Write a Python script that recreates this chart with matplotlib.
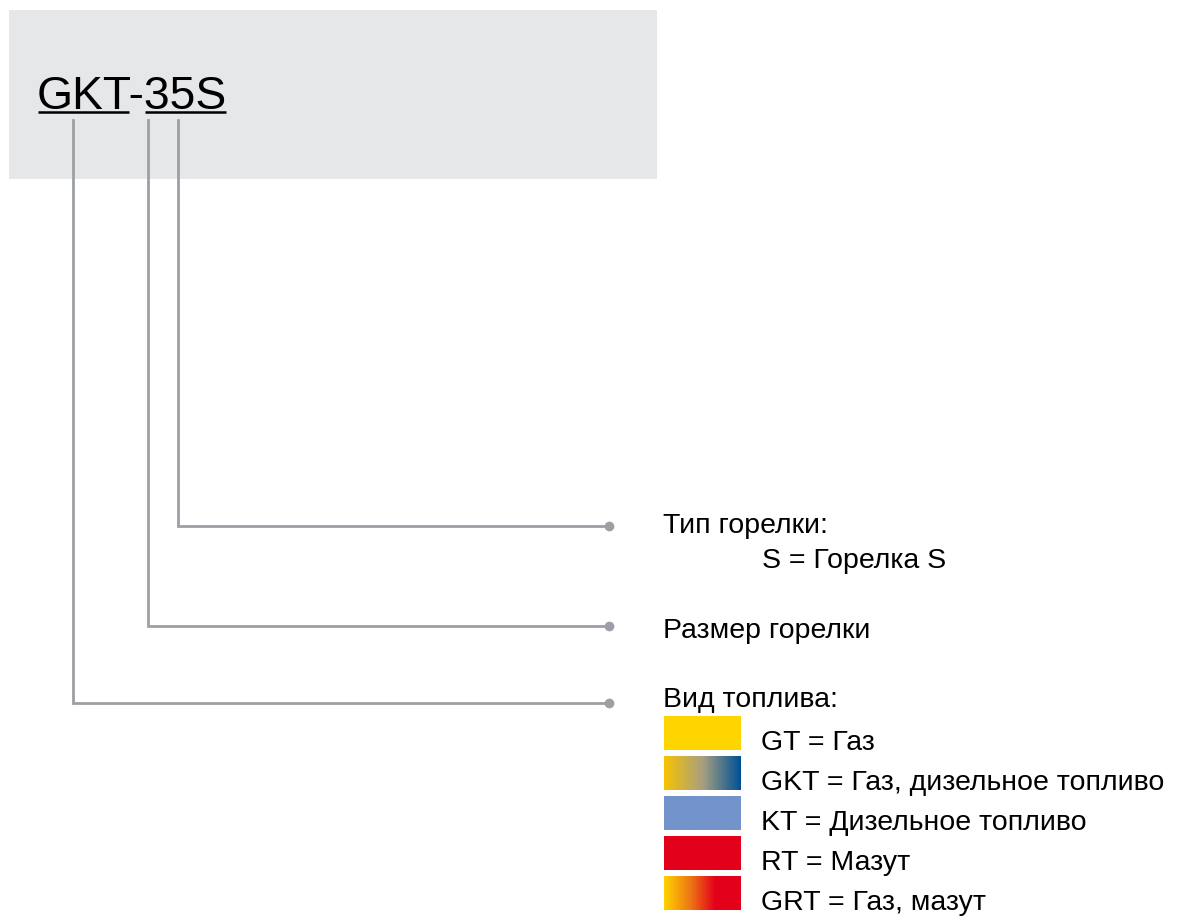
import numpy as np
import matplotlib
matplotlib.use("Agg")
import matplotlib.pyplot as plt
from matplotlib.colors import LinearSegmentedColormap

plt.rcParams['font.family'] = ['Liberation Sans', 'DejaVu Sans']

# code parts and their explanations
code_text = "GKT-35S"
branch_labels = ["Тип горелки:", "Размер горелки", "Вид топлива:"]
type_detail = "S = Горелка S"

# fuel types: label and colour stops for the swatch
fuel_labels = ["GT = Газ",
               "GKT = Газ, дизельное топливо",
               "KT = Дизельное топливо",
               "RT = Мазут",
               "GRT = Газ, мазут"]
fuel_colors = [["#ffd500", "#ffd500"],
               ["#f7c300", "#a8a080", "#005096"],
               ["#7393cb", "#7393cb"],
               ["#e3001b", "#e3001b"],
               ["#ffd200", "#ee7a14", "#e3001b", "#e3001b"]]

W, H = 1184, 916
fig = plt.figure(figsize=(W / 100, H / 100), dpi=100)
ax = fig.add_axes([0, 0, 1, 1])
ax.set_xlim(0, W)
ax.set_ylim(H, 0)
ax.axis('off')

# grey header box
ax.add_patch(plt.Rectangle((9, 10), 648, 169, color="#e6e7e9", lw=0))

# title with underlined parts
ax.text(37, 109, code_text, fontsize=33.3, va="baseline", ha="left", color="black")
ax.plot([38, 129], [112, 112], color="black", lw=1.8, solid_capstyle="butt")
ax.plot([145, 226], [112, 112], color="black", lw=1.8, solid_capstyle="butt")

# leader lines
grey = "#9ca0a6"
line_x = [178, 148, 73]
line_y = [526, 626, 703]
for x, y in zip(line_x, line_y):
    ax.plot([x, x, 609], [120, y, y], color=grey, lw=2, solid_joinstyle="miter")
    ax.plot(609, y, "o", color=grey, ms=7, mec="none")

# branch texts (baselines)
text_y = [533, 638, 707]
fs = 20.5
for lab, y in zip(branch_labels, text_y):
    ax.text(663, y, lab, fontsize=fs, va="baseline", ha="left")
ax.text(762, 568, type_detail, fontsize=fs, va="baseline", ha="left")

# fuel swatches
sw_top = [716, 756, 796, 836, 876]
sw_h = 34
for lab, cols, y in zip(fuel_labels, fuel_colors, sw_top):
    cmap = LinearSegmentedColormap.from_list("c", cols)
    grad = np.linspace(0, 1, 256).reshape(1, -1)
    ax.imshow(grad, cmap=cmap, aspect="auto",
              extent=[664, 741, y + sw_h, y], interpolation="bilinear")
    ax.text(761, y + sw_h - 0.5, lab, fontsize=fs, va="baseline", ha="left")

ax.set_xlim(0, W)
ax.set_ylim(H, 0)
fig.savefig("out.png", dpi=100)
